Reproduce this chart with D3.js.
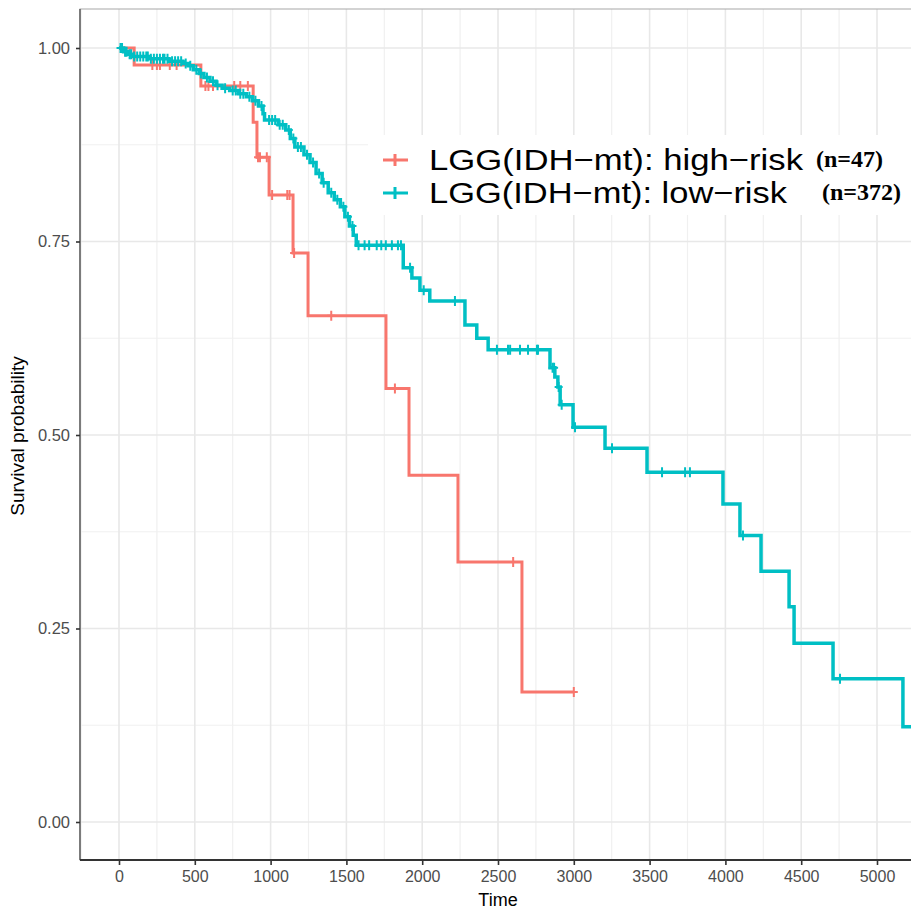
<!DOCTYPE html>
<html>
<head>
<meta charset="utf-8">
<script src="https://cdn.jsdelivr.net/npm/d3@7"></script>
<style>
  html, body { margin: 0; padding: 0; background: #fff; }
  svg { display: block; font-family: "Liberation Sans", Arial, sans-serif; }
</style>
</head>
<body>
<svg id="chart" width="911" height="909"></svg>
<script>
// Kaplan–Meier survival, LGG (IDH-mt) risk groups

// high-risk group: event times (days) and survival after each step
const highTimes = [0, 100, 540, 885, 910, 990, 1148, 1247, 1761, 1913, 2236, 2658];
const highSurv  = [1.0, 0.978, 0.951, 0.904, 0.859, 0.81, 0.735, 0.654, 0.56, 0.448, 0.336, 0.168];
const highEnd = 3000;
const highCensor = [220, 250, 270, 335, 380, 570, 590, 620, 760, 800, 850, 917, 930, 975, 1010,
  1110, 1125, 1155, 1400, 1820, 2600, 3000];

// low-risk group
const lowTimes = [0, 30, 60, 90, 200, 330, 420, 460, 490, 530, 560, 600, 640, 680, 730, 790, 840,
  880, 920, 950, 960, 1050, 1100, 1130, 1160, 1220, 1260, 1300, 1340, 1380, 1420, 1460, 1490,
  1520, 1545, 1565, 1875, 1932, 1985, 2050, 2282, 2360, 2435, 2843, 2875, 2895, 2910, 2995,
  3206, 3483, 3984, 4096, 4235, 4420, 4453, 4710, 5171];
const lowSurv = [1.0, 0.995, 0.992, 0.989, 0.986, 0.983, 0.98, 0.977, 0.972, 0.967, 0.962, 0.957,
  0.952, 0.948, 0.945, 0.941, 0.937, 0.932, 0.925, 0.915, 0.907, 0.901, 0.894, 0.883, 0.872,
  0.862, 0.852, 0.838, 0.826, 0.813, 0.804, 0.795, 0.782, 0.77, 0.758, 0.745, 0.716, 0.703,
  0.687, 0.673, 0.642, 0.625, 0.61, 0.587, 0.575, 0.562, 0.539, 0.51, 0.483, 0.452, 0.411,
  0.37, 0.324, 0.278, 0.231, 0.185, 0.123];
const lowEnd = 5300;
const lowCensor = [10, 20, 40, 50, 70, 80, 100, 120, 140, 160, 180, 190, 210, 230, 250, 270, 290,
  300, 320, 350, 370, 390, 410, 440, 470, 510, 540, 580, 620, 650, 700, 750, 770, 800, 820, 860,
  900, 940, 990, 1010, 1030, 1060, 1080, 1120, 1150, 1180, 1200, 1240, 1280, 1320, 1350, 1400,
  1440, 1480, 1510, 1540, 1580, 1620, 1650, 1700, 1730, 1760, 1800, 1840, 1860, 1920, 2010,
  2216, 2493, 2566, 2580, 2645, 2698, 2757, 2764, 2860, 2870, 2900, 2920, 3008, 3252, 3582,
  3734, 3766, 4116, 4756];

const groupNames = ["LGG(IDH\u2212mt): high\u2212risk", "LGG(IDH\u2212mt): low\u2212risk"];
const groupCounts = ["(n=47)", "(n=372)"];
const groupColors = ["#F8766D", "#00BFC4"];

const xTicks = d3.range(0, 5001, 500);
const xMinor = d3.range(-250, 5501, 500);
const yTicks = [0, 0.25, 0.5, 0.75, 1];
const yMinor = [0.125, 0.375, 0.625, 0.875];

const svg = d3.select("#chart");

const panel = { left: 80, top: 9, right: 960, bottom: 860 };
const x = d3.scaleLinear().domain([0, 5000]).range([119, 877]);
const y = d3.scaleLinear().domain([0, 1]).range([822, 48]);

// grid
const grid = svg.append("g");
grid.selectAll("line.vmin").data(xMinor).join("line")
  .attr("x1", d => x(d)).attr("x2", d => x(d))
  .attr("y1", panel.top).attr("y2", panel.bottom)
  .attr("stroke", "#f0f0f0").attr("stroke-width", 1.2);
grid.selectAll("line.hmin").data(yMinor).join("line")
  .attr("x1", panel.left).attr("x2", panel.right)
  .attr("y1", d => y(d)).attr("y2", d => y(d))
  .attr("stroke", "#f0f0f0").attr("stroke-width", 1.2);
grid.selectAll("line.vmaj").data(xTicks).join("line")
  .attr("x1", d => x(d)).attr("x2", d => x(d))
  .attr("y1", panel.top).attr("y2", panel.bottom)
  .attr("stroke", "#e8e8e8").attr("stroke-width", 1.6);
grid.selectAll("line.hmaj").data(yTicks).join("line")
  .attr("x1", panel.left).attr("x2", panel.right)
  .attr("y1", d => y(d)).attr("y2", d => y(d))
  .attr("stroke", "#e8e8e8").attr("stroke-width", 1.6);

// panel border
svg.append("rect")
  .attr("x", panel.left).attr("y", panel.top)
  .attr("width", panel.right - panel.left).attr("height", panel.bottom - panel.top)
  .attr("fill", "none").attr("stroke", "#a8a8a8").attr("stroke-width", 1);

// survival curves
const line = d3.line().x(d => x(d[0])).y(d => y(d[1])).curve(d3.curveStepAfter);

function stepData(times, surv, end) {
  const pts = times.map((t, i) => [t, surv[i]]);
  pts.push([end, surv[surv.length - 1]]);
  return pts;
}
function survAt(times, surv, t) {
  let s = surv[0];
  for (let i = 0; i < times.length; i++) if (times[i] <= t) s = surv[i];
  return s;
}

const groups = [
  { times: highTimes, surv: highSurv, end: highEnd, censor: highCensor, color: groupColors[0], w: 3 },
  { times: lowTimes, surv: lowSurv, end: lowEnd, censor: lowCensor, color: groupColors[1], w: 3.5 }
];

groups.forEach(g => {
  svg.append("path")
    .datum(stepData(g.times, g.surv, g.end))
    .attr("d", line)
    .attr("fill", "none")
    .attr("stroke", g.color)
    .attr("stroke-width", g.w)
    .attr("stroke-linejoin", "miter");
  svg.append("g").selectAll("path").data(g.censor).join("path")
    .attr("transform", d => `translate(${x(d)},${y(survAt(g.times, g.surv, d))})`)
    .attr("d", "M-4,0H4M0,-5V5")
    .attr("stroke", g.color)
    .attr("stroke-width", 2)
    .attr("fill", "none");
});

// axes lines
svg.append("line")
  .attr("x1", panel.left).attr("x2", panel.left)
  .attr("y1", panel.top).attr("y2", panel.bottom)
  .attr("stroke", "#666").attr("stroke-width", 1.6);

const sans = "'Liberation Sans', Arial, sans-serif";

const xAxis = svg.append("g").attr("transform", `translate(0,${panel.bottom})`)
  .call(d3.axisBottom(x).tickValues(xTicks).tickSize(5).tickPadding(6).tickFormat(d3.format("d")));
xAxis.select(".domain").remove();
xAxis.append("line").attr("x1", panel.left).attr("x2", 911).attr("y1", 0).attr("y2", 0)
  .attr("stroke", "#333").attr("stroke-width", 2.2);
xAxis.selectAll(".tick line").attr("stroke", "#333").attr("stroke-width", 1.6);
xAxis.selectAll(".tick text").attr("fill", "#4d4d4d")
  .style("font-size", "16px").style("font-family", sans);

const yAxis = svg.append("g").attr("transform", `translate(${panel.left},0)`)
  .call(d3.axisLeft(y).tickValues(yTicks).tickSize(4).tickPadding(6).tickFormat(d3.format(".2f")));
yAxis.select(".domain").remove();
yAxis.selectAll(".tick line").attr("stroke", "#333").attr("stroke-width", 1.6);
yAxis.selectAll(".tick text").attr("fill", "#4d4d4d")
  .style("font-size", "16.5px").style("font-family", sans);

// axis titles
svg.append("text")
  .attr("x", 498).attr("y", 906)
  .attr("text-anchor", "middle")
  .style("font-size", "18px").attr("fill", "#000")
  .text("Time");
svg.append("text")
  .attr("transform", "translate(24,436) rotate(-90)")
  .attr("text-anchor", "middle")
  .style("font-size", "19px").attr("fill", "#000")
  .text("Survival probability");

// legend
const legend = svg.append("g");
legend.append("rect")
  .attr("x", 368).attr("y", 135).attr("width", 600).attr("height", 80)
  .attr("fill", "#fff");
const legY = [160, 193];
const labelWidths = [374, 358];
groupNames.forEach((name, i) => {
  const row = legend.append("g");
  row.append("path")
    .attr("d", `M383,${legY[i]}H408M395,${legY[i] - 6}V${legY[i] + 6}`)
    .attr("stroke", groupColors[i]).attr("stroke-width", 3).attr("fill", "none");
  row.append("text")
    .attr("x", 429).attr("y", legY[i] + 10)
    .attr("textLength", labelWidths[i]).attr("lengthAdjust", "spacingAndGlyphs")
    .style("font-size", "30px").style("font-family", sans)
    .attr("fill", "#000")
    .text(name);
  row.append("text")
    .attr("x", i === 0 ? 816 : 822).attr("y", legY[i] + 7)
    .style("font-size", "24px").style("font-weight", "bold")
    .style("font-family", "'Liberation Serif', 'Times New Roman', serif")
    .attr("fill", "#000")
    .text(groupCounts[i]);
});
</script>
</body>
</html>
